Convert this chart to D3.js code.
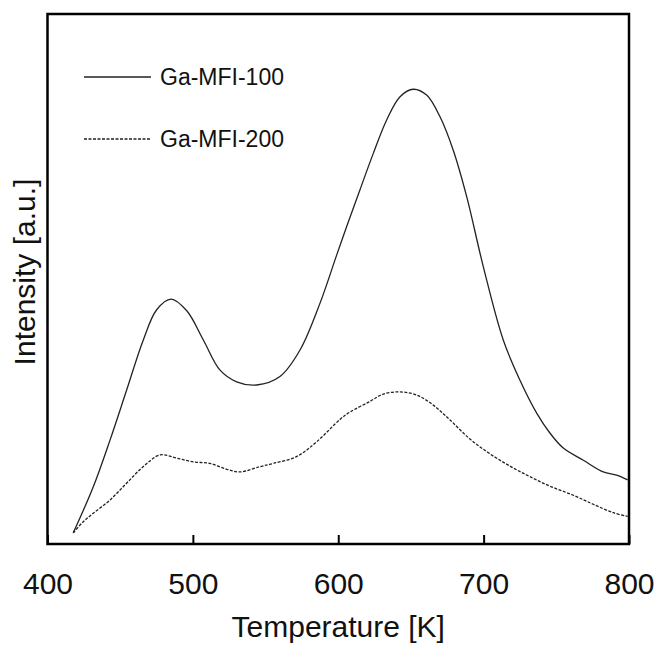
<!DOCTYPE html>
<html lang="en">
<head>
    <meta charset="UTF-8">
    <title>TPD</title>
    <script src="https://cdn.jsdelivr.net/npm/d3@7/dist/d3.min.js"></script>
    <style>
        body { margin: 0; background: #fff; }
        text { font-family: Arial, "Liberation Sans", sans-serif; fill: #111; }
    </style>
</head>
<body>
<script>
    // Ga-MFI-100 (solid)
    var temp100 = [417.7, 431.5, 443.0, 454.5, 465.9, 475.1, 485.0, 495.8, 507.2, 518.7, 530.1, 543.9,
        559.9, 573.7, 587.4, 598.9, 605.8, 614.9, 624.1, 633.3, 642.5, 651.6, 660.8, 670.0, 679.1,
        688.4, 699.8, 713.5, 725.0, 736.5, 745.7, 754.8, 768.6, 782.3, 791.5, 799.1];
    var int100 = [2.1, 10.8, 19.6, 29.1, 38.5, 44.2, 46.2, 44.0, 38.5, 32.8, 30.6, 30.0,
        31.6, 36.6, 45.4, 54.5, 59.9, 66.8, 73.7, 80.0, 84.4, 85.8, 84.7, 80.6, 74.3,
        65.5, 52.3, 38.5, 30.9, 24.7, 20.9, 18.1, 15.8, 13.6, 13.0, 12.1];

    // Ga-MFI-200 (dashed)
    var temp200 = [417.7, 424.6, 431.5, 443.0, 454.5, 465.9, 477.4, 488.9, 500.3, 511.8, 523.3, 532.4,
        546.2, 555.3, 571.4, 585.2, 601.2, 608.1, 621.8, 631.0, 642.5, 654.0, 665.4, 676.9, 690.6,
        704.4, 718.1, 731.9, 745.7, 761.7, 775.4, 789.2, 799.1];
    var int200 = [2.1, 4.2, 5.8, 8.3, 11.5, 14.6, 16.8, 16.2, 15.5, 15.2, 14.1, 13.6,
        14.6, 15.2, 16.5, 19.3, 23.5, 24.9, 26.9, 28.3, 28.7, 28.1, 26.2, 23.4, 19.8,
        17.0, 14.7, 12.7, 10.9, 9.2, 7.5, 5.9, 5.2];

    var xTicks = [400, 500, 600, 700, 800];
    var seriesNames = ["Ga-MFI-100", "Ga-MFI-200"];

    var width = 661, height = 645;
    var plotL = 47.5, plotR = 629, plotT = 14, plotB = 544;

    var svg = d3.select("body").append("svg")
        .attr("width", width)
        .attr("height", height);

    var x = d3.scaleLinear().domain([400, 800]).range([plotL, plotR]);
    var y = d3.scaleLinear().domain([0, 100]).range([plotB, plotT]);

    // x 轴 (刻度朝内)
    var xAxis = d3.axisBottom(x)
        .tickValues(xTicks)
        .tickSizeInner(-9)
        .tickSizeOuter(0)
        .tickPadding(29)
        .tickFormat(d3.format("d"));

    var gx = svg.append("g")
        .attr("transform", "translate(0," + plotB + ")")
        .call(xAxis);
    gx.select(".domain").remove();
    gx.selectAll(".tick line").attr("stroke", "#000").attr("stroke-width", 2);
    gx.selectAll(".tick text")
        .attr("font-size", 30)
        .attr("font-family", "Arial, 'Liberation Sans', sans-serif")
        .attr("fill", "#111");

    // 外框
    svg.append("rect")
        .attr("x", plotL)
        .attr("y", plotT)
        .attr("width", plotR - plotL)
        .attr("height", plotB - plotT)
        .attr("fill", "none")
        .attr("stroke", "#000")
        .attr("stroke-width", 2.5);

    var line = d3.line()
        .x(function (d) { return x(d[0]); })
        .y(function (d) { return y(d[1]); })
        .curve(d3.curveCatmullRom.alpha(0.5));

    var data100 = temp100.map(function (t, i) { return [t, int100[i]]; });
    var data200 = temp200.map(function (t, i) { return [t, int200[i]]; });

    svg.append("path")
        .datum(data100)
        .attr("d", line)
        .attr("fill", "none")
        .attr("stroke", "#222")
        .attr("stroke-width", 1.3);

    svg.append("path")
        .datum(data200)
        .attr("d", line)
        .attr("fill", "none")
        .attr("stroke", "#222")
        .attr("stroke-width", 1.3)
        .attr("stroke-dasharray", "3,1.5");

    // 图例
    var legendY = [77, 139];
    seriesNames.forEach(function (name, i) {
        svg.append("line")
            .attr("x1", 84)
            .attr("x2", 151)
            .attr("y1", legendY[i])
            .attr("y2", legendY[i])
            .attr("stroke", "#222")
            .attr("stroke-width", 1.3)
            .attr("stroke-dasharray", i === 1 ? "3,1.5" : null);
        svg.append("text")
            .attr("x", 160)
            .attr("y", legendY[i] + 8)
            .attr("font-size", 23)
            .text(name);
    });

    // 轴标题
    svg.append("text")
        .attr("x", (plotL + plotR) / 2)
        .attr("y", 637)
        .attr("text-anchor", "middle")
        .attr("font-size", 30)
        .text("Temperature [K]");

    svg.append("text")
        .attr("transform", "translate(35,272) rotate(-90)")
        .attr("text-anchor", "middle")
        .attr("font-size", 30)
        .text("Intensity [a.u.]");
</script>
</body>
</html>
